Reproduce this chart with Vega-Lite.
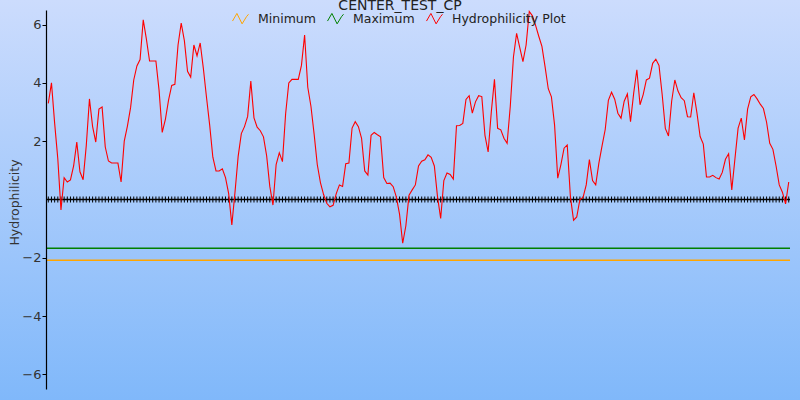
{
  "$schema": "https://vega.github.io/schema/vega-lite/v6.json",
  "width": 744,
  "height": 379,
  "autosize": "none",
  "padding": {"left": 46, "top": 10, "right": 10, "bottom": 11},
  "background": "#a6cafb",
  "title": {"text": "CENTER_TEST_CP", "frame": "bounds", "anchor": "middle", "fontSize": 14, "font": "DejaVu Sans", "fontWeight": "normal", "color": "#222222", "baseline": "alphabetic", "offset": -24},
  "config": {
    "font": "DejaVu Sans",
    "view": {"stroke": null},
    "axisY": {"domainColor": "#000000", "domainWidth": 1.2, "tickColor": "#000000", "tickSize": 4, "labelFontSize": 13, "labelColor": "#333333", "labelPadding": 1, "labelFont": "DejaVu Sans", "titleFontSize": 12.5, "titleFontWeight": "normal", "titleColor": "#333333", "titleFont": "DejaVu Sans", "grid": false}
  },
  "datasets": {
    "hydro": [
      {"p":1,"v":3.3},{"p":2,"v":4.0},{"p":3,"v":2.62},{"p":4,"v":1.4},{"p":5,"v":-0.36},{"p":6,"v":0.75},{"p":7,"v":0.6},{"p":8,"v":0.67},{"p":9,"v":1.15},{"p":10,"v":1.97},
      {"p":11,"v":0.95},{"p":12,"v":0.68},{"p":13,"v":1.85},{"p":14,"v":3.45},{"p":15,"v":2.5},{"p":16,"v":1.97},{"p":17,"v":3.1},{"p":18,"v":3.17},{"p":19,"v":1.8},{"p":20,"v":1.32},
      {"p":21,"v":1.25},{"p":22,"v":1.25},{"p":23,"v":1.25},{"p":24,"v":0.6},{"p":25,"v":2.0},{"p":26,"v":2.52},{"p":27,"v":3.15},{"p":28,"v":4.1},{"p":29,"v":4.58},{"p":30,"v":4.8},
      {"p":31,"v":6.16},{"p":32,"v":5.5},{"p":33,"v":4.75},{"p":34,"v":4.75},{"p":35,"v":4.75},{"p":36,"v":3.75},{"p":37,"v":2.3},{"p":38,"v":2.75},{"p":39,"v":3.41},{"p":40,"v":3.91},
      {"p":41,"v":3.95},{"p":42,"v":5.3},{"p":43,"v":6.05},{"p":44,"v":5.45},{"p":45,"v":4.4},{"p":46,"v":4.2},{"p":47,"v":5.3},{"p":48,"v":4.93},{"p":49,"v":5.37},{"p":50,"v":4.5},
      {"p":51,"v":3.5},{"p":52,"v":2.55},{"p":53,"v":1.45},{"p":54,"v":0.98},{"p":55,"v":0.98},{"p":56,"v":1.05},{"p":57,"v":0.75},{"p":58,"v":0.2},{"p":59,"v":-0.87},{"p":60,"v":0.25},
      {"p":61,"v":1.48},{"p":62,"v":2.26},{"p":63,"v":2.5},{"p":64,"v":2.85},{"p":65,"v":4.06},{"p":66,"v":2.8},{"p":67,"v":2.48},{"p":68,"v":2.36},{"p":69,"v":2.15},{"p":70,"v":1.5},
      {"p":71,"v":0.45},{"p":72,"v":-0.19},{"p":73,"v":1.2},{"p":74,"v":1.6},{"p":75,"v":1.3},{"p":76,"v":2.94},{"p":77,"v":4.0},{"p":78,"v":4.12},{"p":79,"v":4.12},{"p":80,"v":4.12},
      {"p":81,"v":4.6},{"p":82,"v":5.64},{"p":83,"v":3.85},{"p":84,"v":3.2},{"p":85,"v":2.25},{"p":86,"v":1.2},{"p":87,"v":0.58},{"p":88,"v":0.17},{"p":89,"v":-0.13},{"p":90,"v":-0.25},
      {"p":91,"v":-0.2},{"p":92,"v":0.2},{"p":93,"v":0.5},{"p":94,"v":0.45},{"p":95,"v":1.23},{"p":96,"v":1.25},{"p":97,"v":2.45},{"p":98,"v":2.67},{"p":99,"v":2.5},{"p":100,"v":2.1},
      {"p":101,"v":0.98},{"p":102,"v":0.84},{"p":103,"v":2.2},{"p":104,"v":2.3},{"p":105,"v":2.22},{"p":106,"v":2.15},{"p":107,"v":0.75},{"p":108,"v":0.55},{"p":109,"v":0.56},{"p":110,"v":0.44},
      {"p":111,"v":0.08},{"p":112,"v":-0.5},{"p":113,"v":-1.5},{"p":114,"v":-0.9},{"p":115,"v":0.15},{"p":116,"v":0.33},{"p":117,"v":0.5},{"p":118,"v":1.15},{"p":119,"v":1.31},{"p":120,"v":1.36},
      {"p":121,"v":1.53},{"p":122,"v":1.45},{"p":123,"v":1.15},{"p":124,"v":0.1},{"p":125,"v":-0.65},{"p":126,"v":0.65},{"p":127,"v":0.91},{"p":128,"v":0.86},{"p":129,"v":0.7},{"p":130,"v":2.53},
      {"p":131,"v":2.54},{"p":132,"v":2.61},{"p":133,"v":3.43},{"p":134,"v":3.56},{"p":135,"v":2.96},{"p":136,"v":3.35},{"p":137,"v":3.56},{"p":138,"v":3.53},{"p":139,"v":2.2},{"p":140,"v":1.63},
      {"p":141,"v":3.0},{"p":142,"v":4.12},{"p":143,"v":2.44},{"p":144,"v":2.39},{"p":145,"v":2.1},{"p":146,"v":1.93},{"p":147,"v":3.2},{"p":148,"v":4.89},{"p":149,"v":5.7},{"p":150,"v":5.21},
      {"p":151,"v":4.73},{"p":152,"v":5.3},{"p":153,"v":6.45},{"p":154,"v":6.3},{"p":155,"v":5.97},{"p":156,"v":5.6},{"p":157,"v":5.25},{"p":158,"v":4.55},{"p":159,"v":3.8},{"p":160,"v":3.52},
      {"p":161,"v":2.55},{"p":162,"v":0.73},{"p":163,"v":1.2},{"p":164,"v":1.76},{"p":165,"v":1.87},{"p":166,"v":0.1},{"p":167,"v":-0.71},{"p":168,"v":-0.6},{"p":169,"v":0.0},{"p":170,"v":0.07},
      {"p":171,"v":0.5},{"p":172,"v":1.37},{"p":173,"v":0.65},{"p":174,"v":0.5},{"p":175,"v":1.25},{"p":176,"v":1.84},{"p":177,"v":2.4},{"p":178,"v":3.4},{"p":179,"v":3.68},{"p":180,"v":3.44},
      {"p":181,"v":2.96},{"p":182,"v":2.79},{"p":183,"v":3.37},{"p":184,"v":3.62},{"p":185,"v":2.67},{"p":186,"v":3.65},{"p":187,"v":4.45},{"p":188,"v":3.25},{"p":189,"v":3.6},{"p":190,"v":4.1},
      {"p":191,"v":4.16},{"p":192,"v":4.67},{"p":193,"v":4.81},{"p":194,"v":4.6},{"p":195,"v":3.6},{"p":196,"v":2.44},{"p":197,"v":2.18},{"p":198,"v":3.37},{"p":199,"v":4.1},{"p":200,"v":3.72},
      {"p":201,"v":3.49},{"p":202,"v":3.39},{"p":203,"v":2.84},{"p":204,"v":2.83},{"p":205,"v":3.66},{"p":206,"v":2.96},{"p":207,"v":2.16},{"p":208,"v":1.9},{"p":209,"v":0.77},{"p":210,"v":0.77},
      {"p":211,"v":0.83},{"p":212,"v":0.75},{"p":213,"v":0.7},{"p":214,"v":0.93},{"p":215,"v":1.38},{"p":216,"v":1.57},{"p":217,"v":0.33},{"p":218,"v":1.4},{"p":219,"v":2.45},{"p":220,"v":2.79},
      {"p":221,"v":2.04},{"p":222,"v":3.1},{"p":223,"v":3.52},{"p":224,"v":3.6},{"p":225,"v":3.45},{"p":226,"v":3.27},{"p":227,"v":3.12},{"p":228,"v":2.65},{"p":229,"v":1.93},{"p":230,"v":1.72},
      {"p":231,"v":1.15},{"p":232,"v":0.5},{"p":233,"v":0.25},{"p":234,"v":-0.15},{"p":235,"v":0.6}
    ]
  },
  "layer": [
    {
      "data": {"values": [{}]},
      "mark": {"type": "rect", "zindex": 0, "fill": {"gradient": "linear", "x1": 0, "y1": 0, "x2": 0, "y2": 1, "stops": [{"offset": 0, "color": "#ccdcfd"}, {"offset": 1, "color": "#80b8fa"}]}},
      "encoding": {
        "x": {"datum": -14.27, "type": "quantitative", "scale": {"domain": [0.27, 235.4], "nice": false, "zero": false}, "axis": null},
        "x2": {"datum": 238.57},
        "y": {"datum": 6.843, "type": "quantitative", "scale": {"domain": [-6.5, 6.5], "nice": false, "zero": false}, "axis": {"values": [-6, -4, -2, 2, 4, 6], "title": "Hydrophilicity", "zindex": 5, "orient": "left", "titleX": -25, "titleY": 192, "titleAngle": 270, "titleBaseline": "bottom", "titleAlign": "center"}},
        "y2": {"datum": -6.879}
      }
    },
    {
      "data": {"values": [{}]},
      "mark": {"type": "rule", "strokeWidth": 1.5},
      "encoding": {
        "y": {"datum": -2.08, "type": "quantitative"},
        "color": {"datum": "Minimum", "type": "nominal", "scale": {"domain": ["Minimum", "Maximum", "Hydrophilicity Plot"], "range": ["#ffa500", "#008000", "#ff0000"]},
          "legend": {"title": null, "orient": "none", "legendX": 186, "legendY": 0, "direction": "horizontal", "symbolType": "M-1,0.3L-0.45,-0.65L0.2,0.65L0.75,-0.25L1,-0.55", "symbolSize": 256, "symbolStrokeWidth": 1, "symbolFillColor": "transparent", "labelFontSize": 12.5, "labelColor": "#222222", "labelFont": "DejaVu Sans", "labelOffset": 9, "columnPadding": 9, "padding": 0}}
      }
    },
    {
      "data": {"values": [{}]},
      "mark": {"type": "rule", "strokeWidth": 1.5},
      "encoding": {
        "y": {"datum": -1.67, "type": "quantitative"},
        "color": {"datum": "Maximum", "type": "nominal"}
      }
    },
    {
      "data": {"values": [{}]},
      "mark": {"type": "rule", "strokeWidth": 1.6, "color": "#000000"},
      "encoding": {
        "y": {"datum": 0, "type": "quantitative"}
      }
    },
    {
      "data": {"name": "hydro"},
      "mark": {"type": "tick", "orient": "vertical", "size": 6, "thickness": 1, "color": "#000000", "opacity": 1},
      "encoding": {
        "x": {"field": "p", "type": "quantitative"},
        "y": {"datum": 0, "type": "quantitative"}
      }
    },
    {
      "data": {"name": "hydro"},
      "mark": {"type": "line", "strokeWidth": 1.1},
      "encoding": {
        "x": {"field": "p", "type": "quantitative"},
        "y": {"field": "v", "type": "quantitative"},
        "color": {"datum": "Hydrophilicity Plot", "type": "nominal"}
      }
    }
  ]
}
